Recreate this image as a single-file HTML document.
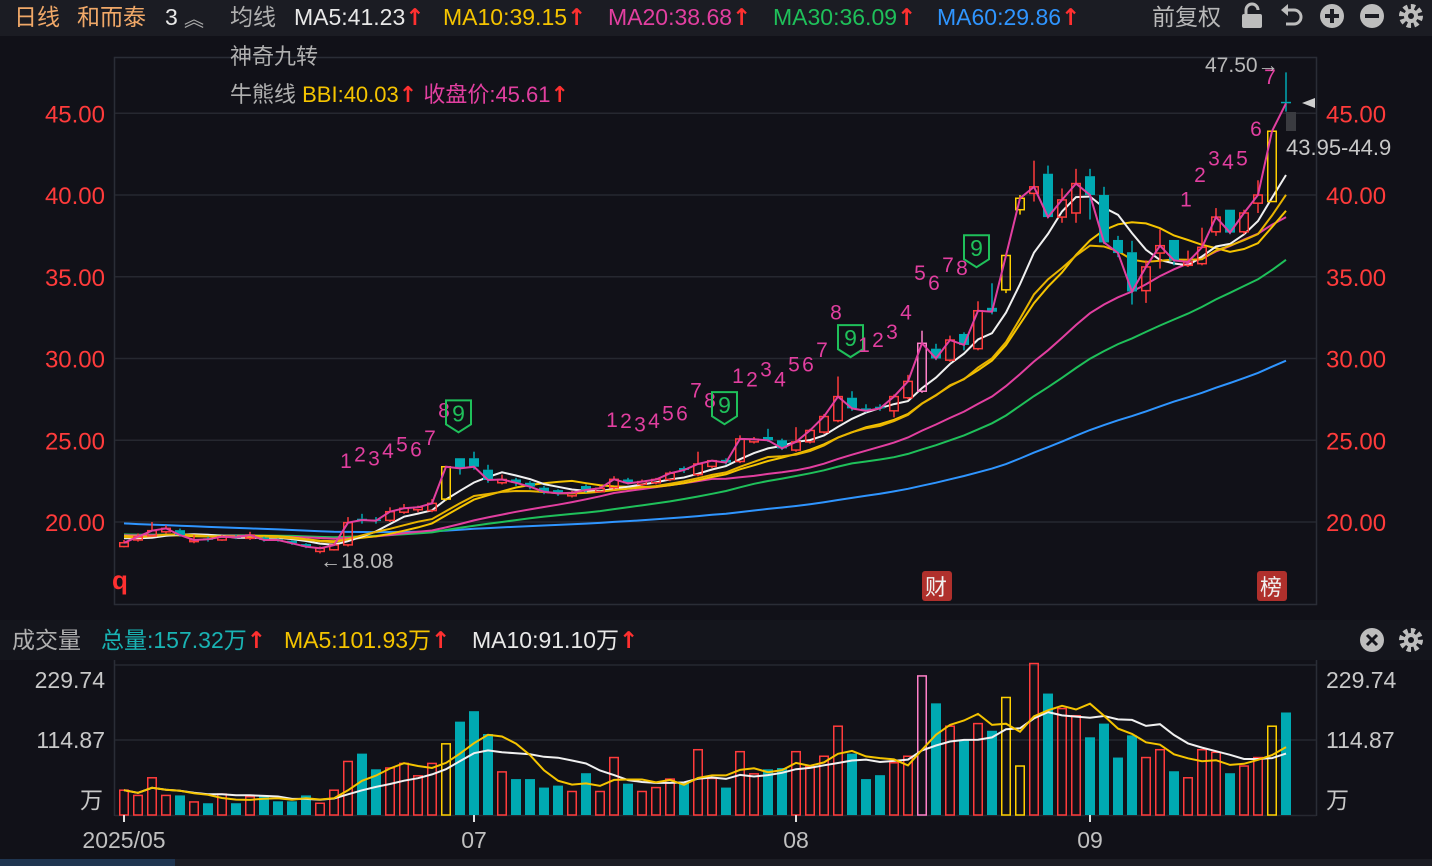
<!DOCTYPE html>
<html><head><meta charset="utf-8">
<style>
html,body{margin:0;padding:0;background:#111118;width:1432px;height:866px;overflow:hidden;font-family:"Liberation Sans","Noto Sans CJK SC",sans-serif;}
svg{display:block}
text{font-family:"Liberation Sans","Noto Sans CJK SC",sans-serif;}
.ar{font-weight:bold;font-family:"DejaVu Sans",sans-serif;}
</style></head>
<body>
<svg id="chart" width="1432" height="866" viewBox="0 0 1432 866" xmlns="http://www.w3.org/2000/svg">
  <rect x="0" y="0" width="1432" height="866" fill="#111118"/>
  <rect x="0" y="0" width="1432" height="36" fill="#1b1c23"/>
  <g font-size="23">
    <text x="14" y="25" fill="#f0a868">日线</text>
    <text x="77" y="25" fill="#f0a868">和而泰</text>
    <text x="165" y="25" fill="#e8e8e8">3</text>
    <text x="184" y="26" fill="#aaa" font-size="20">︽</text>
    <text x="230" y="25" fill="#b0b0b0">均线</text>
    <text x="294" y="25" fill="#e8e8e8">MA5:41.23<tspan class="ar" fill="#ff3030">↑</tspan></text>
    <text x="443" y="25" fill="#f5c400">MA10:39.15<tspan class="ar" fill="#ff3030">↑</tspan></text>
    <text x="608" y="25" fill="#e23fa0">MA20:38.68<tspan class="ar" fill="#ff3030">↑</tspan></text>
    <text x="773" y="25" fill="#1fc05a">MA30:36.09<tspan class="ar" fill="#ff3030">↑</tspan></text>
    <text x="937" y="25" fill="#2f95ff">MA60:29.86<tspan class="ar" fill="#ff3030">↑</tspan></text>
    <text x="1152" y="25" fill="#b8b8b8">前复权</text>
  </g>
  <g fill="#bdbdbd">
    <rect x="1242" y="14" width="20" height="14" rx="2"/>
    <path d="M1246 14 v-4 a6 6 0 0 1 12 0" fill="none" stroke="#bdbdbd" stroke-width="3"/>
  </g>
  <g><path d="M1286 10 h8 a7 7 0 0 1 0 14 h-8" fill="none" stroke="#bdbdbd" stroke-width="3"/><path d="M1281 10 l7 -6 v12 z" fill="#bdbdbd"/></g>
  <g><circle cx="1332" cy="16" r="12" fill="#bdbdbd"/><rect x="1325" y="14" width="14" height="4" fill="#1b1c23"/><rect x="1330" y="9" width="4" height="14" fill="#1b1c23"/></g>
  <g><circle cx="1372" cy="16" r="12" fill="#bdbdbd"/><rect x="1365" y="14" width="14" height="4" fill="#1b1c23"/></g>
  <g><circle cx="1411" cy="16" r="9" fill="none" stroke="#bdbdbd" stroke-width="6" stroke-dasharray="4 3"/><circle cx="1411" cy="16" r="7" fill="#bdbdbd"/><circle cx="1411" cy="16" r="3" fill="#1b1c23"/></g>

  <rect x="114.5" y="57.5" width="1202" height="547" fill="none" stroke="#2a2d36" stroke-width="1.5"/>
  <g id="priceGrid"></g>
  <g id="priceLabels" font-size="24"></g>
  <text x="230" y="64" font-size="22" fill="#b0b0b0">神奇九转</text>
  <text x="230" y="102" font-size="22" fill="#b0b0b0">牛熊线  <tspan fill="#f5c400">BBI:40.03</tspan><tspan class="ar" fill="#ff3030">↑</tspan> <tspan fill="#e23fa0">收盘价:45.61</tspan><tspan class="ar" fill="#ff3030">↑</tspan></text>
  <defs><clipPath id="clipMain"><rect x="115" y="58" width="1201" height="546"/></clipPath>
  <clipPath id="clipVol"><rect x="115" y="660" width="1201" height="156"/></clipPath></defs>
  <g id="maLines" clip-path="url(#clipMain)"></g>
  <g id="candles" clip-path="url(#clipMain)"></g>
  <g id="closeLine" clip-path="url(#clipMain)"></g>
  <g id="nineLabels" font-size="21" fill="#e23fa0"></g>

  <text x="1205" y="72" font-size="21" fill="#b8b8b8">47.50→</text>
  <text x="320" y="568" font-size="21" fill="#b8b8b8">←18.08</text>
  <rect x="1286" y="112" width="10" height="19" fill="#3a3b40"/>
  <path d="M1302 103 l13 -5 v10 z" fill="#cfcfcf"/>
  <text x="1286" y="155" font-size="22" fill="#c8c8c8">43.95-44.9</text>
  <text x="112" y="589" font-size="26" font-weight="bold" fill="#ff3030">q</text>
  <g><rect x="922" y="571" width="30" height="30" rx="3" fill="#b0302c"/><text x="925" y="595" font-size="22" fill="#f0f0f0">财</text></g>
  <g><rect x="1257" y="571" width="30" height="30" rx="3" fill="#b0302c"/><text x="1260" y="595" font-size="22" fill="#f0f0f0">榜</text></g>

  <rect x="0" y="620" width="1432" height="40" fill="#14151c"/>
  <g font-size="23">
    <text x="12" y="648" fill="#b0b0b0">成交量</text>
    <text x="101" y="648" fill="#19b3b3">总量:157.32万<tspan class="ar" fill="#ff3030">↑</tspan></text>
    <text x="284" y="648" fill="#f5c400">MA5:101.93万<tspan class="ar" fill="#ff3030">↑</tspan></text>
    <text x="472" y="648" fill="#e8e8e8">MA10:91.10万<tspan class="ar" fill="#ff3030">↑</tspan></text>
  </g>
  <g><circle cx="1372" cy="640" r="12" fill="#bdbdbd"/><path d="M1367 635 l10 10 M1377 635 l-10 10" stroke="#14151c" stroke-width="3"/></g>
  <g><circle cx="1411" cy="640" r="9" fill="none" stroke="#bdbdbd" stroke-width="6" stroke-dasharray="4 3"/><circle cx="1411" cy="640" r="7" fill="#bdbdbd"/><circle cx="1411" cy="640" r="3" fill="#14151c"/></g>

  <line x1="114.5" y1="660" x2="114.5" y2="816" stroke="#2a2d36" stroke-width="1.5"/>
  <line x1="1316.5" y1="660" x2="1316.5" y2="816" stroke="#2a2d36" stroke-width="1.5"/>
  <g id="volGrid"></g>
  <g id="volBars" clip-path="url(#clipVol)"></g>
  <g id="volLines" clip-path="url(#clipVol)"></g>
  <g id="dateAxis" font-size="23" fill="#c0c0c0"></g>
  <rect x="0" y="859" width="1432" height="7" fill="#1c1d24"/>
  <rect x="0" y="859" width="175" height="7" fill="#1f3550"/>
</svg>
<script>
const NS = "http://www.w3.org/2000/svg";
// ---- data ----
const priorCloses = [21.6,21.4,21.5,21.3,21.1,21.2,21.0,20.9,21.1,20.8,20.7,20.9,20.6,20.5,20.7,20.4,20.6,20.3,20.5,20.2,20.4,20.1,20.3,20.0,20.2,19.9,20.1,19.8,19.9,19.7,19.5,19.4,19.6,19.3,19.2,19.4,19.3,19.1,19.3,19.5,19.2,19.1,19.4,19.3,19.0,19.2,19.4,19.3,19.1,19.2,19.5,19.3,19.0,19.2,19.4,19.1,19.3,19.0,18.9];
const opens = [18.5,18.9,19.15,19.4,19.5,18.8,19.0,18.9,19.12,19.0,19.05,18.95,18.85,18.65,18.2,18.3,18.6,20.2,20.15,20.1,20.6,20.75,20.7,21.4,23.9,23.9,23.2,22.4,22.6,22.4,22.1,21.95,21.6,22.2,21.85,22.1,22.6,22.3,22.4,22.6,23.3,22.9,23.4,23.8,23.7,24.9,25.2,25.0,24.4,24.9,25.5,26.2,27.6,26.95,27.05,26.8,27.6,28.0,30.6,29.9,31.5,30.6,33.1,34.2,39.1,40.1,41.3,38.65,38.9,41.15,40.0,37.25,36.5,34.15,36.45,37.25,35.7,35.8,37.75,39.1,37.75,39.5,39.6,45.7];
const highs = [18.9,19.3,20.0,19.8,19.6,19.2,19.1,19.2,19.2,19.4,19.1,19.0,18.9,18.7,18.5,18.7,20.3,20.5,20.3,20.9,21.1,21.0,21.4,23.4,23.9,24.3,23.5,22.9,22.7,22.5,22.2,22.0,21.9,22.3,22.2,22.8,22.7,22.6,22.7,23.1,23.4,24.3,23.8,23.9,25.3,25.2,25.7,25.1,25.8,25.7,26.6,28.9,28.0,27.2,27.2,27.8,29.0,31.7,30.9,31.4,31.6,33.5,34.6,36.3,40.0,42.1,41.8,40.4,41.6,41.6,40.5,37.5,37.2,36.0,37.9,37.25,36.6,38.0,39.2,39.1,39.1,40.9,43.95,47.5];
const lows = [18.45,18.8,19.1,19.3,19.1,18.7,18.8,18.85,18.95,18.9,18.8,18.8,18.6,18.4,18.08,18.25,18.5,19.9,19.9,20.0,20.5,20.6,20.6,21.3,22.9,23.2,22.4,22.3,22.2,22.0,21.7,21.6,21.5,21.8,21.8,22.0,22.3,22.2,22.3,22.5,23.0,22.8,23.3,23.5,23.6,24.8,24.9,24.4,24.3,24.8,25.4,26.1,26.8,26.7,26.8,26.4,27.5,27.9,29.9,29.8,30.5,30.5,32.7,34.0,38.8,39.6,38.6,38.3,38.3,38.5,37.0,36.2,33.3,33.4,35.5,35.7,35.6,35.7,37.5,37.6,37.6,38.9,39.6,45.1];
const closes = [18.73,19.10,19.47,19.61,19.20,18.90,18.94,19.10,19.06,19.2,18.9,18.9,18.7,18.49,18.39,18.59,19.96,20.12,20.08,20.63,20.84,20.9,21.14,23.38,23.28,23.38,22.57,22.6,22.4,22.16,21.85,21.75,21.79,21.96,22.06,22.61,22.37,22.47,22.6,22.98,23.18,23.55,23.75,23.63,25.08,25.06,25.0,24.5,24.9,25.6,26.45,27.67,26.95,26.8,26.95,27.67,28.6,30.93,30.0,31.13,30.83,32.92,32.86,36.3,39.8,40.5,38.65,39.7,40.7,40.0,37.1,36.45,34.1,35.6,36.9,36.0,35.9,36.8,38.65,37.7,38.9,40.0,43.9,45.61];
const volumes = [38,30,57,30,30,20,18,32,18,28,29,21,21,30,18,38,82,94,70,72,79,60,79,109,143,159,124,66,55,55,42,45,36,64,36,88,48,36,42,55,50,100,56,42,97,63,70,72,97,74,90,136,94,55,61,80,90,213,171,136,114,140,129,180,75,232,186,163,152,119,140,88,122,88,100,67,57,100,96,64,75,88,136,157];
const downDays = [4,6,8,10,11,12,13,17,18,24,25,26,28,29,30,31,33,36,40,43,46,47,52,53,54,58,60,62,66,69,70,71,72,75,79,83];
const yellowDays = [23,63,64,82];
const pinkDays = [57];
const priceTicks = [45,40,35,30,25,20];
const volTicks = [229.74,114.87];
const dateLabels = ["2025/05","07","08","09"];
const dateIndex = [0,25,48,69];
// nine-turn labels: candle index, text, price level of label baseline
const nineIdx = [16,17,18,19,20,21,22,23,24, 35,36,37,38,39,40,41,42,43, 44,45,46,47,48,49,50,51,52, 53,54,55,56,57,58,59,60,61, 76,77,78,79,80,81,82];
const nineTxt = ["1","2","3","4","5","6","7","8","9","1","2","3","4","5","6","7","8","9","1","2","3","4","5","6","7","8","9","1","2","3","4","5","6","7","8","9","1","2","3","4","5","6","7"];
const nineLvl = [23.3,23.7,23.45,23.9,24.3,24.0,24.7,26.4,26.4,25.8,25.75,25.55,25.75,26.2,26.2,27.6,27.0,26.9,28.5,28.3,28.9,28.3,29.2,29.2,30.1,32.4,31.0,30.4,30.7,31.2,32.4,34.8,34.2,35.3,35.1,36.5,39.3,40.8,41.8,41.6,41.8,43.6,46.8];

// ---- axes ----
const x = i => 124 + i * 14;
const y = p => 522 - (p - 20) * 16.35;
const vy = v => 815 - v * 150 / 229.74;

function el(tag, attrs, parent){const e=document.createElementNS(NS,tag);for(const k in attrs)e.setAttribute(k,attrs[k]);parent.appendChild(e);return e;}

const gGrid=document.getElementById('priceGrid'), gPL=document.getElementById('priceLabels');
priceTicks.forEach(t=>{
  const l=el('line',{x1:115,x2:1316,y1:y(t),y2:y(t),stroke:'#262830','stroke-width':1.5},gGrid);
  
  
  const a=el('text',{x:105,y:y(t)+9,'text-anchor':'end',fill:'#ff3b3b'},gPL);a.textContent=t.toFixed(2);
  
  
  const b=el('text',{x:1326,y:y(t)+9,fill:'#ff3b3b'},gPL);b.textContent=t.toFixed(2);
  
  
});

const all = priorCloses.concat(closes), P = priorCloses.length;
function ma(n,i){let s=0,c=0;for(let k=P+i;k>P+i-n&&k>=0;k--){s+=all[k];c++;}return s/c;}
function path(fn){let d='';for(let i=0;i<closes.length;i++){d+=(i?'L':'M')+x(i).toFixed(1)+' '+y(fn(i)).toFixed(1);}return d;}
const gMA=document.getElementById('maLines');
const maDefs=[[60,'#2f95ff','ma60-line'],[30,'#1fc05a','ma30-line'],[20,'#e23fa0','ma20-line'],[10,'#f5c400','ma10-line'],[5,'#f0f0f0','ma5-line']];
maDefs.forEach(([n,c,name])=>{
  const p=el('path',{d:path(i=>ma(n,i)),fill:'none',stroke:c,'stroke-width':2},gMA);
  
  
});
const bbi=el('path',{d:path(i=>(ma(3,i)+ma(6,i)+ma(12,i)+ma(24,i))/4),fill:'none',stroke:'#e8b400','stroke-width':2},gMA);



const gC=document.getElementById('candles');
closes.forEach((c,i)=>{
  const o=opens[i], down=downDays.includes(i);
  let col = down ? '#00a9b2' : '#ff3b3b';
  if(yellowDays.includes(i)) col='#ffd000';
  if(pinkDays.includes(i)) col='#ff80c8';
  const g=el('g',{},gC);
  
  
  const top=Math.min(y(o),y(c)), bot=Math.max(y(o),y(c));
  el('line',{x1:x(i),x2:x(i),y1:y(highs[i]),y2:top,stroke:col,'stroke-width':1.5},g);
  el('line',{x1:x(i),x2:x(i),y1:bot,y2:y(lows[i]),stroke:col,'stroke-width':1.5},g);
  const h=Math.max(bot-top,1.5);
  if(down) el('rect',{x:x(i)-5,y:top,width:10,height:h,fill:col},g);
  else el('rect',{x:x(i)-4.25,y:top,width:8.5,height:h,fill:'none',stroke:col,'stroke-width':1.5},g);
});
const cl=el('path',{d:path(i=>closes[i]),fill:'none',stroke:'#e23fa0','stroke-width':2},document.getElementById('closeLine'));



const gN=document.getElementById('nineLabels');
nineIdx.forEach((ix,k)=>{
  const t=nineTxt[k], xx=x(ix)-2;
  const yy=y(nineLvl[k]);
  if(t==='9'){
    const g=el('g',{},gN);
    
    
    el('path',{d:`M${xx-12} ${yy-17} h25 v24 l-12.5 8 l-12.5 -8 z`,fill:'none',stroke:'#1fc05a','stroke-width':2},g);
    const tx=el('text',{x:xx+0.5,y:yy+4,fill:'#1fc05a','font-size':23,'text-anchor':'middle'},g);tx.textContent='9';
  } else {
    const tx=el('text',{x:xx,y:yy,'text-anchor':'middle'},gN);tx.textContent=t;
    
    
  }
});

const gVG=document.getElementById('volGrid');
const volLabelOff=[23,8];
volTicks.forEach((t,k)=>{
  const l=el('line',{x1:115,x2:1316,y1:vy(t),y2:vy(t),stroke:'#262830','stroke-width':1.5},gVG);
  
  
  const a=el('text',{x:105,y:vy(t)+volLabelOff[k],'text-anchor':'end',fill:'#c8c8c8','font-size':23},gVG);a.textContent=t.toFixed(2);
  
  
  const b=el('text',{x:1326,y:vy(t)+volLabelOff[k],fill:'#c8c8c8','font-size':23},gVG);b.textContent=t.toFixed(2);
  
  
});
const wl=el('text',{x:80,y:808,fill:'#c8c8c8','font-size':23},gVG);wl.textContent='万';


const wr=el('text',{x:1326,y:808,fill:'#c8c8c8','font-size':23},gVG);wr.textContent='万';


el('line',{x1:115,x2:1316,y1:815.5,y2:815.5,stroke:'#262830','stroke-width':1.5},gVG);

const gVB=document.getElementById('volBars');
volumes.forEach((v,i)=>{
  const down=downDays.includes(i);
  let col = down ? '#00a9b2' : '#ff3b3b';
  if(yellowDays.includes(i)) col='#ffd000';
  if(pinkDays.includes(i)) col='#ff80c8';
  let r;
  if(down) r=el('rect',{x:x(i)-5,y:vy(v),width:10,height:815-vy(v),fill:col},gVB);
  else r=el('rect',{x:x(i)-4.25,y:vy(v),width:8.5,height:815-vy(v),fill:'none',stroke:col,'stroke-width':1.5},gVB);
  
  
});
function vma(n,i){let s=0,c=0;for(let k=i;k>i-n&&k>=0;k--){s+=volumes[k];c++;}return s/c;}
function vpath(n){let d='';for(let i=0;i<volumes.length;i++){d+=(i?'L':'M')+x(i).toFixed(1)+' '+vy(vma(n,i)).toFixed(1);}return d;}
const gVL=document.getElementById('volLines');
const v10=el('path',{d:vpath(10),fill:'none',stroke:'#f0f0f0','stroke-width':2},gVL);


const v5=el('path',{d:vpath(5),fill:'none',stroke:'#f5c400','stroke-width':2},gVL);



const gD=document.getElementById('dateAxis');
dateLabels.forEach((lab,k)=>{
  const xx=x(dateIndex[k]);
  el('line',{x1:xx,x2:xx,y1:815,y2:822,stroke:'#e0e0e0','stroke-width':2},gD);
  const t=el('text',{x:xx,y:848,'text-anchor':'middle'},gD);t.textContent=lab;
  
  
});
</script>
</body></html>
